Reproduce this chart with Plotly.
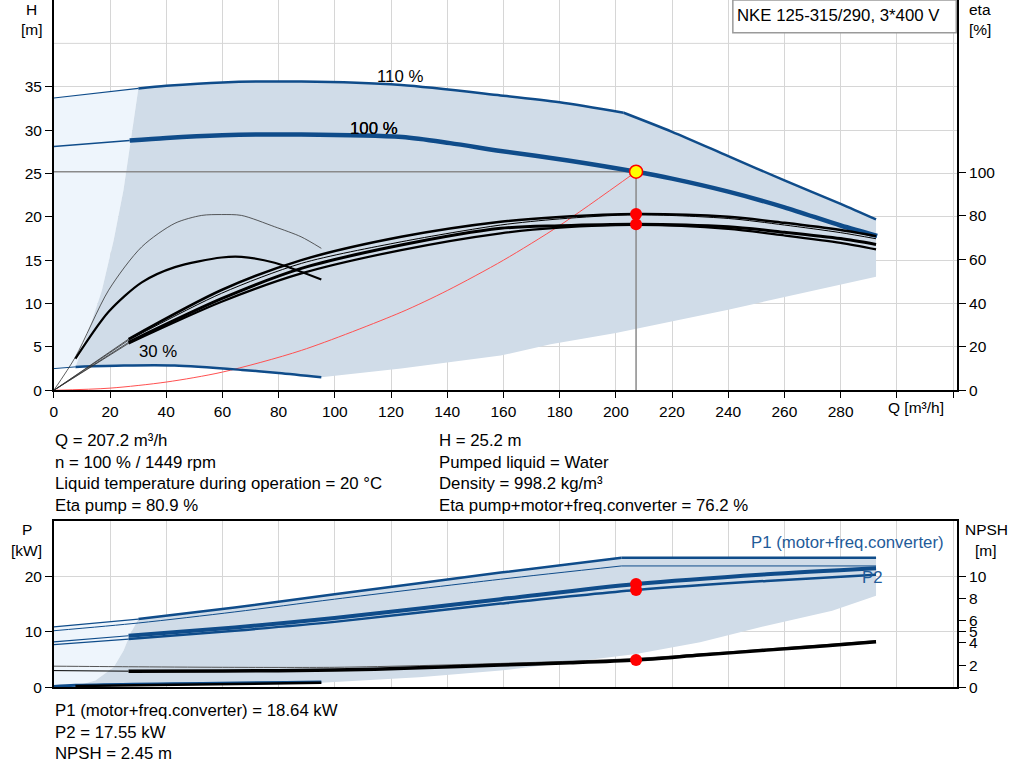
"""Pump performance curves for NKE 125-315/290 (duty point at 207.2 m3/h)."""
import plotly.graph_objects as go

# ---- data -----------------------------------------------------------------
Q_OP = 207.2
H_OP = 25.2
ETA_PUMP_OP = 80.9
ETA_TOT_OP = 76.2
P1_OP = 18.64
P2_OP = 17.55
NPSH_OP = 2.45

# head curves, m (110 % curve has a power-limit knee at index 8)
Q_110 = [0, 30.1, 40, 60, 88.1, 123.6, 159, 180, 202.8, 220, 240, 260, 280, 292.6]
H_110 = [33.7, 34.8, 35.1, 35.5, 35.6, 35.2, 34.0, 33.2, 32.0, 29.8, 27.0, 24.2, 21.5, 19.7]
Q_100 = [0, 27, 40, 60, 88, 124, 141, 159, 183, 207.2, 220, 240, 260, 280, 293]
H_100 = [28.1, 28.8, 29.1, 29.4, 29.5, 29.2, 28.5, 27.6, 26.5, 25.2, 24.4, 22.9, 21.1, 19.0, 17.8]
Q_30 = [0, 7.7, 25, 43, 67, 80, 95.2]
H_30 = [2.5, 2.7, 2.85, 2.85, 2.35, 2.0, 1.5]

# edges of the operating area, head chart
EDGE_L_Q = [7.7, 12.4, 17.1, 21.3, 24.8, 27.6, 30.1]
EDGE_L_H = [2.7, 6.9, 11.5, 17.3, 23.1, 29.0, 34.8]
EDGE_B_Q = [95.2, 123.6, 159, 176.8, 200, 240, 292.6]
EDGE_B_H = [1.5, 2.5, 4.0, 5.3, 6.6, 9.3, 13.1]

# system curve, m
SYS_Q = [0, 20, 40, 60, 88.1, 123.6, 140, 160, 180, 207.2]
SYS_H = [0, 0.25, 0.95, 2.1, 4.6, 9.0, 11.5, 15.0, 19.0, 25.2]

# efficiency curves, %
ETA_Q = [0, 26.6, 59.7, 88.1, 123.6, 159, 180, 207.2, 240, 260, 280, 292.6]
ETA_PUMP_100 = [0, 23.5, 46, 59.7, 70.4, 77.3, 79.5, 80.9, 79.6, 76.8, 73.5, 70.7]
ETA_PUMP_110 = [0, 23, 44.5, 58.2, 68.1, 75.8, 78.6, 80.5, 78.8, 75.8, 72.3, 69.5]
ETA_TOT_100 = [0, 22, 42, 55.9, 66.6, 74.3, 75.5, 76.2, 75.0, 72.5, 69.6, 66.9]
ETA_TOT_110 = [0, 21.5, 40.6, 53.6, 64.3, 72.0, 74.6, 75.8, 74.0, 71.0, 67.6, 64.6]
ETA30_Q = [0, 7.7, 19.5, 31.3, 43.1, 52.6, 59.7, 66.8, 78.6, 88, 95.2]
ETA30_PUMP = [0, 15.3, 45.9, 65.8, 76.6, 80.2, 80.6, 80.2, 75.0, 70.4, 65.1]
ETA30_TOT_Q = [7.7, 19.5, 31.3, 43.1, 59.7, 66.8, 78.6, 95.2]
ETA30_TOT = [14.5, 36, 49.5, 56.5, 60.9, 61.2, 58.5, 50.8]

# power curves, kW (110 % curves flat after the knee at index 5)
PQ_110 = [0, 30.1, 64.4, 99.9, 159, 202, 292.6]
P1_110 = [10.9, 12.3, 14.4, 16.8, 20.7, 23.4, 23.4]
P2_110 = [10.2, 11.6, 13.6, 15.9, 19.5, 21.9, 21.9]
PQ_100 = [0, 26.6, 64.4, 99.9, 159, 207.2, 253.6, 292.6]
P1_100 = [8.2, 9.3, 10.8, 12.5, 15.9, 18.64, 20.4, 21.5]
P2_100 = [7.7, 8.7, 10.2, 11.8, 15.1, 17.55, 19.2, 20.3]
PQ_30 = [0, 7.7, 95.2]
P1_30 = [0.15, 0.35, 0.95]
P2_30 = [0.05, 0.2, 0.8]

# edges of the operating area, power chart
PEDGE_L_Q = [7.7, 14.8, 21.3, 24.8, 27.2, 30.1]
PEDGE_L_P = [0.2, 1.2, 3.6, 6.6, 9.6, 12.3]
PEDGE_B_Q = [95.2, 99.9, 130, 159, 183.6, 207.2, 230, 253.6, 277, 292.6]
PEDGE_B_P = [0.8, 0.9, 1.8, 3.0, 4.5, 6.0, 8.1, 11.1, 13.8, 16.5]

# NPSH curves, m
NQ = [0, 26.6, 60, 100, 130, 159, 183.6, 207.2, 230, 253.6, 275, 292.6]
NPSH_100 = [1.5, 1.45, 1.47, 1.55, 1.75, 2.0, 2.2, 2.45, 2.9, 3.35, 3.75, 4.1]
NPSH_110 = [1.9, 1.85, 1.8, 1.8, 1.95, 2.15, 2.35, 2.6, 3.0, 3.45, 3.85, 4.2]

Q_TICKS = list(range(0, 321, 20))
Q_LABELS = [str(v) if v <= 280 else "" for v in Q_TICKS]

INFO_LEFT = ["Q = 207.2 m³/h", "n = 100 % / 1449 rpm",
             "Liquid temperature during operation = 20 °C", "Eta pump = 80.9 %"]
INFO_RIGHT = ["H = 25.2 m", "Pumped liquid = Water", "Density = 998.2 kg/m³",
              "Eta pump+motor+freq.converter = 76.2 %"]
INFO_BOTTOM = ["P1 (motor+freq.converter) = 18.64 kW", "P2 = 17.55 kW", "NPSH = 2.45 m"]

# ---- styling --------------------------------------------------------------
W, H = 1024, 781
K = 0.989  # the page comes out slightly squeezed vertically, compensate
FONT = "Arial, Liberation Sans, sans-serif"
BLUE = "#0f4c8a"
SHADE = "#d0dce8"
LIGHT = "#eef5fc"
GRID = "#d6d6d6"
TXT = 16.8


def px(x: float) -> float:
    return x / W


def py(y: float) -> float:
    return 1 - y / (H * K)


def line(x, y, color, width, xa="x", ya="y", shape="spline"):
    return go.Scatter(x=x, y=y, mode="lines", xaxis=xa, yaxis=ya,
                      line={"color": color, "width": width, "shape": shape,
                            "smoothing": 0.8},
                      hoverinfo="skip", showlegend=False)


def patch(x, y, color, xa="x", ya="y"):
    return go.Scatter(x=x, y=y, mode="lines", fill="toself", fillcolor=color,
                      line={"width": 0}, xaxis=xa, yaxis=ya,
                      hoverinfo="skip", showlegend=False)


fig = go.Figure()

# --- head chart areas
fig.add_trace(patch([Q_30[0]] + Q_110[:2] + EDGE_L_Q[::-1],
                    [H_30[0]] + H_110[:2] + EDGE_L_H[::-1], LIGHT))
fig.add_trace(patch(Q_110[1:] + EDGE_B_Q[::-1] + Q_30[1:][::-1] + EDGE_L_Q,
                    H_110[1:] + EDGE_B_H[::-1] + H_30[1:][::-1] + EDGE_L_H, SHADE))

# system curve and duty point guides
fig.add_trace(line(SYS_Q, SYS_H, "#ff5050", 1))
fig.add_trace(line([0, Q_OP, Q_OP], [H_OP, H_OP, 0], "#8a8a8a", 1.5, shape="linear"))

# head curves
fig.add_trace(line(Q_110[:2], H_110[:2], BLUE, 1.2))
fig.add_trace(line(Q_110[1:9], H_110[1:9], BLUE, 2.5))
fig.add_trace(line(Q_110[8:], H_110[8:], BLUE, 2.5))
fig.add_trace(line(Q_100[:2], H_100[:2], BLUE, 1.5))
fig.add_trace(line(Q_100[1:], H_100[1:], BLUE, 4.5))
fig.add_trace(line(Q_30[:2], H_30[:2], BLUE, 1))
fig.add_trace(line(Q_30[1:], H_30[1:], BLUE, 2.5))

# efficiency curves
fig.add_trace(line(ETA30_Q, ETA30_PUMP, "#333333", 0.8, ya="y2"))
fig.add_trace(line(ETA30_TOT_Q, ETA30_TOT, "black", 2.2, ya="y2"))
for eta, w in [(ETA_TOT_110, 2.2), (ETA_TOT_100, 3), (ETA_PUMP_110, 1), (ETA_PUMP_100, 2.5)]:
    fig.add_trace(line(ETA_Q[:2], eta[:2], "#333333", 0.8, ya="y2"))
    fig.add_trace(line(ETA_Q[1:], eta[1:], "black", w, ya="y2"))

# duty point markers
fig.add_trace(go.Scatter(x=[Q_OP, Q_OP], y=[ETA_PUMP_OP, ETA_TOT_OP], mode="markers",
                         yaxis="y2", marker={"color": "red", "size": 12},
                         hoverinfo="skip", showlegend=False))
fig.add_trace(go.Scatter(x=[Q_OP], y=[H_OP], mode="markers",
                         marker={"color": "yellow", "size": 13,
                                 "line": {"color": "red", "width": 1.5}},
                         hoverinfo="skip", showlegend=False))

# --- power chart areas
fig.add_trace(patch([0] + PQ_110[:2] + PEDGE_L_Q[::-1] + [PEDGE_L_Q[0]],
                    [0] + P1_110[:2] + PEDGE_L_P[::-1] + [0], LIGHT, "x2", "y3"))
fig.add_trace(patch(PQ_110[1:] + PEDGE_B_Q[::-1] + PQ_30[1:][::-1] + PEDGE_L_Q,
                    P1_110[1:] + PEDGE_B_P[::-1] + P1_30[1:][::-1] + PEDGE_L_P,
                    SHADE, "x2", "y3"))

# power curves
fig.add_trace(line(PQ_110[:2], P1_110[:2], BLUE, 1.2, "x2", "y3"))
fig.add_trace(line(PQ_110[1:6], P1_110[1:6], BLUE, 2.5, "x2", "y3"))
fig.add_trace(line(PQ_110[5:], P1_110[5:], BLUE, 2.5, "x2", "y3", "linear"))
fig.add_trace(line(PQ_110[:6], P2_110[:6], BLUE, 1, "x2", "y3"))
fig.add_trace(line(PQ_110[5:], P2_110[5:], BLUE, 1, "x2", "y3", "linear"))
fig.add_trace(line(PQ_100[:2], P1_100[:2], BLUE, 1.2, "x2", "y3"))
fig.add_trace(line(PQ_100[1:], P1_100[1:], BLUE, 4, "x2", "y3"))
fig.add_trace(line(PQ_100[:2], P2_100[:2], BLUE, 1.2, "x2", "y3"))
fig.add_trace(line(PQ_100[1:], P2_100[1:], BLUE, 2.5, "x2", "y3"))
fig.add_trace(line(PQ_30, P1_30, BLUE, 3, "x2", "y3"))
fig.add_trace(line(PQ_30[1:], P2_30[1:], "black", 2.5, "x2", "y3"))

# NPSH curves
fig.add_trace(line(NQ, NPSH_110, "#555555", 1, "x2", "y4"))
fig.add_trace(line(NQ[:2], NPSH_100[:2], "black", 1, "x2", "y4"))
fig.add_trace(line(NQ[1:], NPSH_100[1:], "black", 3.5, "x2", "y4"))

fig.add_trace(go.Scatter(x=[Q_OP, Q_OP], y=[P1_OP, P2_OP], mode="markers",
                         xaxis="x2", yaxis="y3", marker={"color": "red", "size": 12},
                         hoverinfo="skip", showlegend=False))
fig.add_trace(go.Scatter(x=[Q_OP], y=[NPSH_OP], mode="markers",
                         xaxis="x2", yaxis="y4", marker={"color": "red", "size": 12},
                         hoverinfo="skip", showlegend=False))

# ---- axes -----------------------------------------------------------------
x_dom = [px(50), px(957)]
tick_font = {"family": FONT, "size": 15.5, "color": "black"}
common_x = dict(range=[0, 321.5], domain=x_dom, tickvals=Q_TICKS, showgrid=True,
                gridcolor=GRID, gridwidth=1, zeroline=False, showline=True,
                linecolor="black", linewidth=1.5, tickfont=tick_font)
common_y = dict(zeroline=False, showline=True, linecolor="black", linewidth=1.5,
                ticks="outside", ticklen=7, tickcolor="black", tickfont=tick_font)

fig.update_layout(
    width=W, height=H,
    margin={"l": 0, "r": 0, "t": 0, "b": 0},
    paper_bgcolor="white", plot_bgcolor="white",
    font={"family": FONT, "size": TXT, "color": "black"},
    showlegend=False,
    xaxis=dict(common_x, anchor="y", ticktext=Q_LABELS, ticks="outside",
               ticklen=6, tickcolor="black"),
    yaxis=dict(common_y, domain=[py(390), 1], range=[0, 45],
               tickvals=[0, 5, 10, 15, 20, 25, 30, 35], showgrid=True, gridcolor=GRID),
    yaxis2=dict(common_y, overlaying="y", side="right", anchor="x", range=[0, 179],
                tickvals=[0, 20, 40, 60, 80, 100], showgrid=False),
    xaxis2=dict(common_x, anchor="y3", showticklabels=False, ticks="", mirror=True),
    yaxis3=dict(common_y, domain=[py(686.7), py(520.7)], range=[0, 30],
                tickvals=[0, 10, 20], anchor="x2", showgrid=True, gridcolor=GRID),
    yaxis4=dict(common_y, overlaying="y3", side="right", anchor="x2", range=[0, 15],
                tickvals=[0, 2, 4, 5, 6, 8, 10], showgrid=False),
)

# extra grid line at H = 40 (no tick label in the original)
fig.add_shape(type="line", xref="x", yref="y", x0=0, x1=321.5, y0=40, y1=40,
              line={"color": GRID, "width": 1}, layer="below")

# model box
fig.add_shape(type="rect", xref="paper", yref="paper", x0=px(731.7), x1=px(956),
              y0=py(32.7), y1=1, line={"color": "#9a9a9a", "width": 1.5},
              fillcolor="white")


def text(x, y, s, anchor="left", color="black", size=TXT, **kw):
    fig.add_annotation(x=x, y=y, text=s, showarrow=False, xanchor=anchor,
                       yanchor="middle", font={"family": FONT, "size": size, "color": color},
                       **kw)


def ptext(xp, yp, s, anchor="left", color="black", size=TXT):
    text(px(xp), py(yp), s, anchor, color, size, xref="paper", yref="paper")


ptext(734, 15, "NKE 125-315/290, 3*400 V")
ptext(28, 9, "H", "center", size=15.5)
ptext(28, 29, "[m]", "center", size=15.5)
ptext(980, 9, "eta", "center", size=15.5)
ptext(980, 29, "[%]", "center", size=15.5)
ptext(916, 407, "Q [m³/h]", "center", size=15.5)
ptext(23, 529, "P", "center", size=15.5)
ptext(23, 550, "[kW]", "center", size=15.5)
ptext(986, 529, "NPSH", "center", size=15.5)
ptext(986, 550, "[m]", "center", size=15.5)

for i, s in enumerate(INFO_LEFT):
    ptext(49, 440 + i * 21.7, s)
for i, s in enumerate(INFO_RIGHT):
    ptext(435, 440 + i * 21.7, s)
for i, s in enumerate(INFO_BOTTOM):
    ptext(49, 710 + i * 21.5, s)

# curve labels
text(123.2, 36.2, "110 %", "center", xref="x", yref="y")
text(113.8, 30.2, "100 %", "center", xref="x", yref="y")
text(113.8, 30.2, "100 %", "center", xref="x", yref="y", xshift=0.8)
text(37.2, 4.5, "30 %", "center", xref="x", yref="y")
text(282.3, 26.1, "P1 (motor+freq.converter)", "center", "#1f5b99", xref="x2", yref="y3")
text(291.3, 19.9, "P2", "center", "#1f5b99", xref="x2", yref="y3")

fig.write_html(
    "out.html",
    config={"displayModeBar": False, "responsive": False},
    post_script="document.body.style.margin='0';"
                "document.body.style.overflow='hidden';"
                "document.documentElement.style.overflow='hidden';",
)
